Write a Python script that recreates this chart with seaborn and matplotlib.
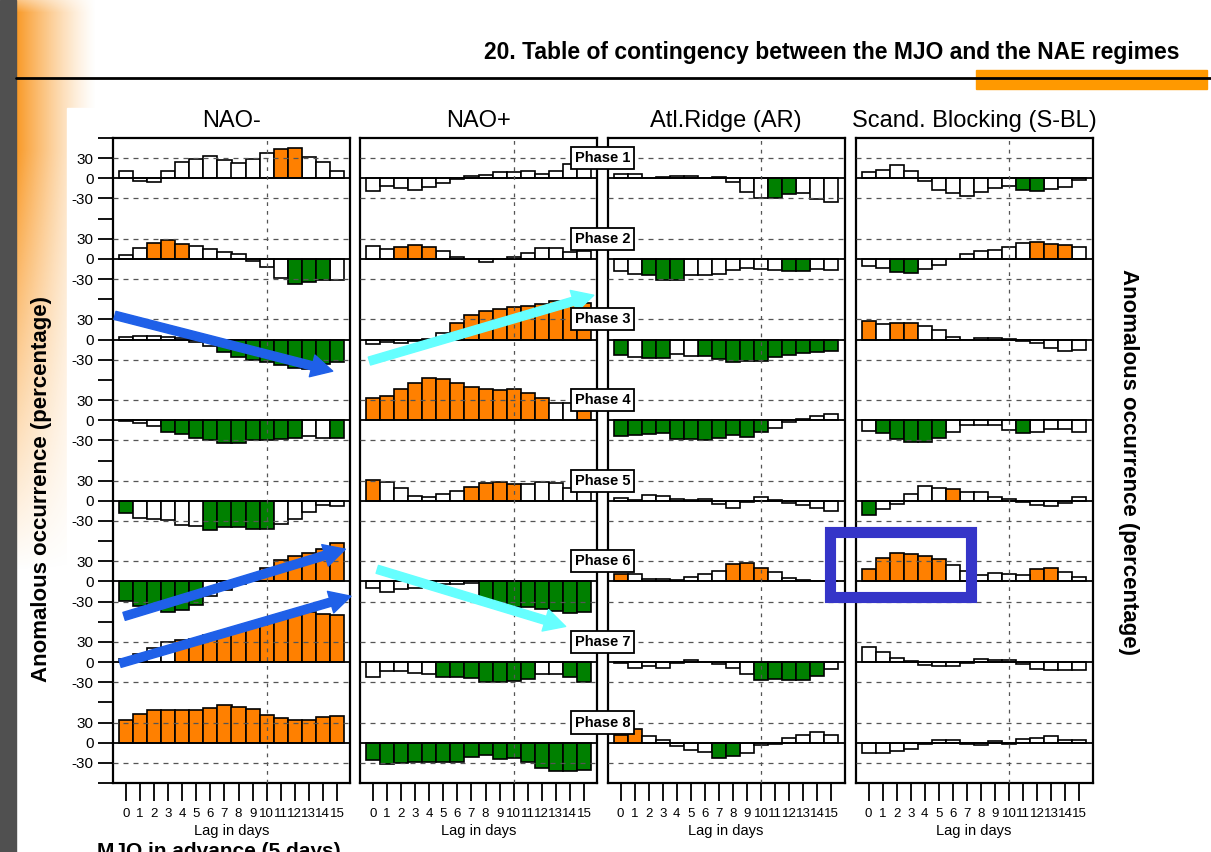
import numpy as np
import pandas as pd
import matplotlib.pyplot as plt
import seaborn as sns
from matplotlib import transforms
from matplotlib.patches import Rectangle

sns.set_theme(style="ticks")
plt.rcParams['font.family'] = ['Liberation Sans', 'DejaVu Sans']
plt.rcParams['text.color'] = 'black'
plt.rcParams['axes.labelcolor'] = 'black'
plt.rcParams['xtick.color'] = 'black'
plt.rcParams['ytick.color'] = 'black'

# Datos: anomalías (%) por fase MJO y desfase (0..15 días)
lags = list(range(16))
regimes = ["NAO-", "NAO+", "Atl.Ridge (AR)", "Scand. Blocking (S-BL)"]
phases = ["Phase %d" % i for i in range(1, 9)]

nao_minus = [
    [11, -4, -6, 11, 24, 29, 33, 27, 23, 29, 37, 43, 45, 32, 24, 11],
    [6, 17, 24, 28, 22, 20, 15, 10, 8, -3, -12, -28, -37, -34, -32, -31],
    [4, 5, 6, 4.5, 2, -3, -10, -18, -26, -30, -34, -38, -42, -44, -37, -34],
    [-1.5, -4, -9, -17.5, -20.5, -27, -29, -34, -34, -30, -30, -27.5, -26.5, -24, -26.5, -26.5],
    [-18, -25.5, -26.5, -29, -36.5, -38, -44, -39, -39, -42.5, -42.5, -34, -26.5, -16.5, -6.5, -8],
    [-29.5, -37, -39.5, -45.5, -42, -34.5, -21.5, -12.5, -4, 2, 20, 32, 37.5, 42, 48.5, 57.5],
    [4, 11.5, 21, 30, 32.5, 35, 40, 43, 49, 57, 64, 67.5, 70, 74, 71, 70],
    [34.5, 42.5, 48.5, 48.5, 48.5, 48.5, 52, 56, 53.5, 50, 41, 37, 34.5, 34.5, 37.5, 39],
]
nao_minus_sig = ["wwwwwwwwwwwoowww", "wwooowwwwwwwgggw", "wwwwwwwggggggggg", "wwwggggggggggwwg",
                 "gwwwwwgggggwwwww", "ggggggwwwwoooooo", "wwwwoooooooooooo", "oooooooooooooooo"]

nao_plus = [
    [-19, -11.5, -14, -18, -13, -6.5, -1.5, 3.5, 5, 9.5, 9.5, 11, 6, 11, 21, 22],
    [20, 15, 17.5, 21, 18.5, 12, 3.5, 0, -5, 0, 2.5, 8.5, 16, 16, 11, 12],
    [-6.5, -4, -5.5, -1.5, 1, 10, 24.5, 36, 42.5, 45, 48.5, 50, 52.5, 57, 56, 54.5],
    [33.5, 36, 46, 56, 63.5, 62, 56, 50, 46, 45, 46, 41, 33.5, 26, 26, 22],
    [31, 28.5, 18.5, 7.5, 5, 10, 15, 21, 26, 27.5, 25, 25, 28.5, 27, 18.5, 15],
    [-10, -15, -11, -10, -6, -3.5, -3.5, -2, -33.5, -36, -38.5, -38.5, -41, -43.5, -47, -46],
    [-21.5, -14, -13.5, -16, -18.5, -21.5, -21.5, -24, -30, -30, -27.5, -25, -18.5, -18.5, -21.5, -30],
    [-26.5, -31.5, -30.5, -29, -29, -29, -29, -21.5, -18, -24, -23, -29, -37.5, -41.5, -42.5, -40.5],
]
nao_plus_sig = ["wwwwwwwwwwwwwwww", "wwooowwwwwwwwwww", "wwwwwwoooooooooo", "ooooooooooooowwo",
                "owwwwwwoooowwwww", "wwwwwwwwgggggggg", "wwwwwgggggggwwgg", "gggggggggggggggg"]

atl_ridge = [
    [6, 6, 0, 2, 3.5, 3.5, 0, 2, -5, -20, -30, -29, -24, -22.5, -31.5, -35],
    [-18.5, -22, -24.5, -31, -31, -24.5, -23.5, -22, -16, -13.5, -15, -16, -17.5, -18.5, -15, -16],
    [-22.5, -26.5, -27.5, -27.5, -21.5, -25, -25, -29, -33, -32.5, -32.5, -25.5, -23, -20.5, -19, -16.5],
    [-23.5, -22.5, -20, -18.5, -27.5, -28.5, -29.5, -27, -22.5, -25, -17.5, -11, -2.5, 1.5, 5.5, 9],
    [3.5, 1, 8.5, 7, 2, 1, 2, -4, -10, -1.5, 5, 1.5, -3, -5.5, -10.5, -15],
    [10.5, 10.5, 4, 4, 1.5, 6.5, 10.5, 15.5, 25.5, 27, 20.5, 14, 5.5, 2, 0.5, 0.5],
    [-1.5, -8.5, -6.5, -8.5, -1, 3.5, 0, -2.5, -8.5, -17.5, -26, -25, -26, -26, -20, -10],
    [11, 20, 10, 4.5, -5, -11.5, -14, -22.5, -20, -15, -4, -1.5, 7.5, 11, 16, 11],
]
atl_ridge_sig = ["wwwwwwwwwwwggwww", "wwgggwwwwwwwggww", "gwggwwgggggggggg", "gggggggggggwwwww",
                 "wwwwwwwwwwwwwwww", "owwwwwwwooowwwww", "wwwwwwwwwwgggggw", "oowwwwwggwwwwwww"]

scand_bl = [
    [10, 12.5, 20, 11, -4, -18, -22.5, -26.5, -20, -15, -11.5, -18, -19, -16.5, -13, -2.5],
    [-11, -13.5, -20, -21, -14.5, -8.5, 0, 8, 11.5, 13, 18, 24, 25.5, 22.5, 20.5, 17.5],
    [27, 22.5, 25, 25, 19.5, 13.5, 3.5, -0.5, 2, 2, 1, -2.5, -5, -12.5, -16.5, -15],
    [-16, -19.5, -28.5, -32.5, -32, -26, -17, -7.5, -7.5, -7.5, -15, -18.5, -17, -12.5, -12.5, -17.5],
    [-21.5, -11.5, -4, 10, 22.5, 19.5, 17.5, 13.5, 13.5, 6, 2.5, -1.5, -6.5, -8, -3, 5],
    [18.5, 34.5, 42, 41, 38.5, 33.5, 24.5, 16, 9.5, 12, 11, 9.5, 18.5, 20, 14.5, 7],
    [22.5, 15, 6, 1.5, -5, -6.5, -6.5, -1, 5, 3.5, 2.5, -3.5, -11, -12.5, -12.5, -11.5],
    [-15.5, -15.5, -12.5, -9, -1.5, 3.5, 3.5, -1.5, -4, 2, -1.5, 5, 7.5, 10, 3.5, 4.5],
]
scand_bl_sig = ["wwwwwwwwwwwggwww", "wwggwwwwwwwwooow", "owoowwwwwwwwwwww", "wgggggwwwwwgwwww",
                "gwwwwwowwwwwwwww", "oooooowwwwwwooww", "wwwwwwwwwwwwwwww", "wwwwwwwwwwwwwwww"]

panel_vals = [nao_minus, nao_plus, atl_ridge, scand_bl]
panel_sig = [nao_minus_sig, nao_plus_sig, atl_ridge_sig, scand_bl_sig]
sig_colors = {"o": "#ff8000", "g": "#008000", "w": "white"}
ROW = 120  # separación vertical entre fases

W, H = 1211, 852
fig = plt.figure(figsize=(W / 100, H / 100), dpi=100)

# Fondo de la diapositiva (coordenadas en pixeles)
bg = fig.add_axes([0, 0, 1, 1], zorder=-5)
bg.set_xlim(0, W)
bg.set_ylim(H, 0)
bg.axis('off')
gy, gx = np.mgrid[0:H, 0:100]
hfade = np.clip(1 - gx / 80.0, 0, 1) ** 1.3
vfade = np.clip(1 - (gy - 150) / 420.0, 0, 1) * np.clip(0.6 + gy / 30.0, 0, 1)
grad = np.zeros((H, 100, 4))
grad[..., 0], grad[..., 1], grad[..., 2] = 0.98, 0.6, 0.15
grad[..., 3] = hfade * vfade
bg.imshow(grad, extent=(16, 116, H, 0), aspect='auto', zorder=1)
bg.add_patch(Rectangle((67, 108), W - 67, H - 108, color='white', zorder=2))
bg.add_patch(Rectangle((0, 0), 16, H, color='#505050', zorder=3))
bg.add_patch(Rectangle((976, 70), 231, 19, color='#ff9900', zorder=3))
bg.plot([16, W], [78, 78], color='black', lw=2, zorder=4)
bg.text(1179, 52, "20. Table of contingency between the MJO and the NAE regimes",
        ha='right', va='center', fontsize=16.5, fontweight='bold')

lefts = [113, 360, 607.5, 855.5]
pw, top, bottom = 237, 138, 783
axes = []
for k, name in enumerate(regimes):
    ax = fig.add_axes([lefts[k] / W, (H - bottom) / H, pw / W, (bottom - top) / H], zorder=2)
    for i in range(8):
        off = -ROW * i
        df = pd.DataFrame({"lag": lags, "value": panel_vals[k][i], "sig": list(panel_sig[k][i])})
        sns.barplot(data=df, x="lag", y="value", hue="sig", palette=sig_colors, dodge=False,
                    native_scale=True, width=1, bottom=off, edgecolor='black', linewidth=1.2,
                    saturation=1, errorbar=None, legend=False, ax=ax, zorder=3)
        ax.axhline(off, color='black', lw=1.3, zorder=4)
        for g in (off + 30, off - 30):
            ax.axhline(g, color='#555555', lw=0.9, ls=(0, (4, 4)), zorder=5)
    ax.axvline(10, color='#555555', lw=0.9, ls=(0, (3, 4)), zorder=5)
    ax.set_xlim(-0.93, 15.93)
    ax.set_ylim(-8 * ROW + 60, 60)
    ax.set_xticks(lags)
    ax.set_xticklabels([str(l) for l in lags])
    ax.tick_params(axis='x', length=13, width=1.3, pad=5, labelsize=9.5)
    ax.set_xlabel("Lag in days", fontsize=10.5, labelpad=3)
    ax.set_ylabel("")
    ax.set_title(name, fontsize=17, pad=8)
    for sp in ax.spines.values():
        sp.set_visible(True)
        sp.set_linewidth(1.6)
        sp.set_color('black')
    if k == 0:
        yt = np.arange(-8 * ROW + 60, 61, 30)
        ylab = []
        for v in yt:
            rel = v + ROW * round(-v / ROW)
            ylab.append(str(int(rel)) if abs(rel) <= 30 else "")
        ax.set_yticks(yt)
        ax.set_yticklabels(ylab)
        ax.tick_params(axis='y', length=11, width=1.3, pad=3, labelsize=11)
    else:
        ax.set_yticks([])
    axes.append(ax)

# Etiquetas de fase entre NAO+ y AR
tr = transforms.blended_transform_factory(fig.transFigure, axes[1].transData)
for i, ph in enumerate(phases):
    fig.text(602.5 / W, -ROW * i + 30, ph, transform=tr, ha='center', va='center',
             fontsize=10.5, fontweight='bold', zorder=20,
             bbox=dict(boxstyle='square,pad=0.28', fc='white', ec='black', lw=1.3))

# Flechas de propagación
blue, cyan = '#1f60e8', '#66ffff'
astyle = "simple,head_length=0.9,head_width=0.95,tail_width=0.35"
arrows = [(0, (-0.79, -204), (14.7, -287), blue),
          (0, (-0.14, -652), (15.6, -552), blue),
          (0, (-0.43, -722), (16.0, -622), blue),
          (1, (-0.26, -272), (15.7, -174), cyan),
          (1, (0.3, -582), (13.7, -667), cyan)]
for k, tail, head, col in arrows:
    axes[k].annotate("", xy=head, xytext=tail, annotation_clip=False, zorder=15,
                     arrowprops=dict(arrowstyle=astyle, color=col, mutation_scale=17,
                                     shrinkA=0, shrinkB=0))

# Recuadro S-BL fase 6
axes[3].add_patch(Rectangle((-2.77, -623), 10.07, 97, fill=False, ec='#3535c8', lw=8,
                            clip_on=False, zorder=15))

fig.text(42 / W, 1 - 489 / H, "Anomalous occurrence (percentage)", rotation=90,
         ha='center', va='center', fontsize=16, fontweight='bold')
fig.text(1128 / W, 1 - 462 / H, "Anomalous occurrence (percentage)", rotation=270,
         ha='center', va='center', fontsize=16, fontweight='bold')
fig.text(97 / W, 1 - 842 / H, "MJO in advance (5 days)", ha='left', va='top',
         fontsize=15, fontweight='bold')

fig.savefig("out.png", dpi=100)
